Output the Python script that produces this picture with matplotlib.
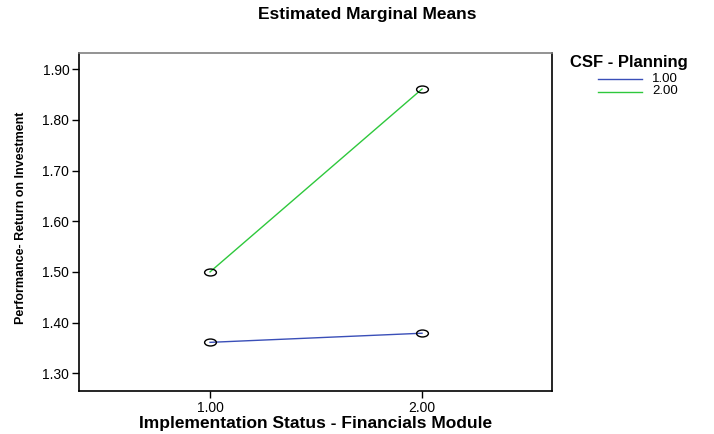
import numpy as np
import matplotlib.pyplot as plt
from matplotlib.path import Path
from matplotlib.transforms import Affine2D

plt.rcParams['font.family'] = ['Liberation Sans', 'DejaVu Sans']

# data
x_levels = [1.0, 2.0]
x_ticklabels = ['1.00', '2.00']
planning_1 = [1.361, 1.379]
planning_2 = [1.500, 1.861]
group_labels = ['1.00', '2.00']
y_ticks = [1.30, 1.40, 1.50, 1.60, 1.70, 1.80, 1.90]

colors = ['#3a4fb8', '#2ec83c']

# squashed circle like the SPSS marker
ellipse = Path.unit_circle().transformed(Affine2D().scale(1.7, 1.0))

fig = plt.figure(figsize=(7.14, 4.34), dpi=100)
ax = fig.add_axes([79 / 714, 1 - 391 / 434, (552 - 79) / 714, (391 - 53) / 434])

for vals, c, lab in zip([planning_1, planning_2], colors, group_labels):
    ax.plot(x_levels, vals, color=c, lw=1.0, label=lab)
    ax.plot(x_levels, vals, ls='none', marker=ellipse, ms=8.5,
            mfc='none', mec='black', mew=1.0)

ax.set_xlim(0.382, 2.613)
ax.set_ylim(1.265, 1.932)
ax.set_xticks(x_levels)
ax.set_xticklabels(x_ticklabels)
ax.set_yticks(y_ticks)
ax.set_yticklabels(['%.2f' % v for v in y_ticks])
ax.tick_params(direction='out', length=5, width=1, labelsize=10, pad=2)

for s in ['left', 'bottom', 'right']:
    ax.spines[s].set_color('black')
ax.spines['top'].set_color('#808080')
for s in ax.spines.values():
    s.set_linewidth(1.2)

ax.set_xlabel('Implementation Status - Financials Module', fontsize=12.5,
              fontweight='bold', labelpad=1)
fig.text(21 / 714, 1 - 218 / 434, 'Performance- Return on Investment',
         rotation=90, ha='center', va='center', fontsize=9, fontweight='bold')

fig.text(367 / 714, 1 - 15 / 434, 'Estimated Marginal Means', ha='center',
         va='center', fontsize=12.5, fontweight='bold')

# legend
fig.text(570 / 714, 1 - 63 / 434, 'CSF - Planning', ha='left', va='center',
         fontsize=12, fontweight='bold')
for i, (c, lab) in enumerate(zip(colors, group_labels)):
    yy = 1 - (79 + 12.5 * i) / 434
    fig.add_artist(plt.Line2D([598 / 714, 642 / 714], [yy, yy], color=c, lw=1.0,
                              transform=fig.transFigure))
    fig.text(652 / 714, yy, lab, ha='left', va='center', fontsize=9.5)

fig.savefig('out.png', dpi=100)
